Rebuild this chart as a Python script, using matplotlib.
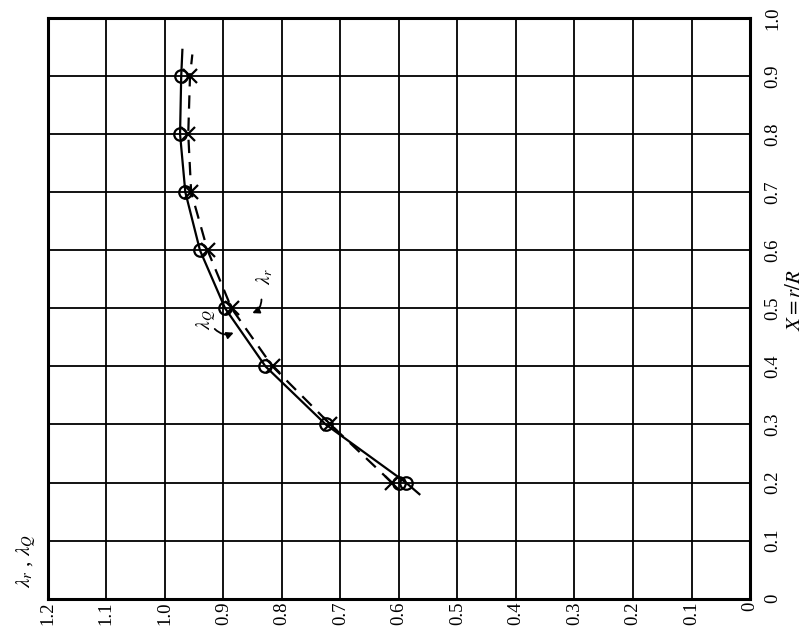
import matplotlib.pyplot as plt
from matplotlib.patches import FancyArrowPatch

# X = r/R positions of the measured points
X = [0.2, 0.3, 0.4, 0.5, 0.6, 0.7, 0.8, 0.9]
# lambda_Q (circles, solid line)
lam_q = [0.588, 0.725, 0.828, 0.897, 0.940, 0.965, 0.974, 0.972]
# lambda_r (crosses, dashed line)
lam_r = [0.612, 0.717, 0.816, 0.886, 0.927, 0.955, 0.960, 0.957]
# second circle drawn at X = 0.2
extra_X = [0.2]
extra_lam = [0.600]

# curve ends (lines run a bit past the points)
q_line_X = [0.18] + X + [0.945]
q_line_lam = [0.565] + lam_q + [0.970]
r_line_X = X + [0.937]
r_line_lam = lam_r + [0.953]

lam_ticks = [1.2, 1.1, 1.0, 0.9, 0.8, 0.7, 0.6, 0.5, 0.4, 0.3, 0.2, 0.1, 0]
lam_labels = ["1.2", "1.1", "1.0", "0.9", "0.8", "0.7", "0.6",
              "0.5", "0.4", "0.3", "0.2", "0.1", "0"]
x_ticks = [0, 0.1, 0.2, 0.3, 0.4, 0.5, 0.6, 0.7, 0.8, 0.9, 1.0]
x_labels = ["0", "0.1", "0.2", "0.3", "0.4", "0.5", "0.6",
            "0.7", "0.8", "0.9", "1.0"]

plt.rcParams['font.family'] = ['Liberation Serif', 'DejaVu Serif']
plt.rcParams['mathtext.fontset'] = 'stix'

fig = plt.figure(figsize=(8.1, 6.39), dpi=100)
ax = fig.add_axes([0.059, 0.063, 0.867, 0.909])

ax.plot(q_line_lam, q_line_X, "k-", lw=1.6)
ax.plot(r_line_lam, r_line_X, "k--", lw=1.6, dashes=(6, 4))
ax.plot(lam_q, X, "o", ms=9, mfc="none", mec="k", mew=1.6)
ax.plot(extra_lam, extra_X, "o", ms=9, mfc="none", mec="k", mew=1.6)
ax.plot(lam_r, X, "x", ms=10, mec="k", mew=1.6)

ax.set_xlim(1.2, 0)
ax.set_ylim(0, 1.0)

ax.set_xticks(lam_ticks)
ax.set_xticklabels(lam_labels, rotation=90, fontsize=13.5)
ax.set_yticks(x_ticks)
ax.set_yticklabels(x_labels, rotation=90, fontsize=13.5, va="center")
ax.yaxis.tick_right()
ax.tick_params(axis="x", length=0, pad=2)
ax.tick_params(axis="y", length=0, pad=10)

ax.grid(True, color="k", lw=1.3)
for s in ax.spines.values():
    s.set_linewidth(2.2)

# labels
fig.text(0.032, 0.08, r"$\lambda_r$ , $\lambda_Q$", rotation=90,
         fontsize=15, ha="center", va="bottom")
fig.text(0.982, 0.53, r"$X=r/R$", rotation=90, fontsize=15,
         ha="center", va="center")

# annotations on the curves
ax.text(0.83, 0.555, r"$\lambda_r$", rotation=90, fontsize=14,
        ha="center", va="center")
ax.add_patch(FancyArrowPatch((0.835, 0.52), (0.855, 0.49),
                             connectionstyle="arc3,rad=-0.4",
                             arrowstyle="-|>", mutation_scale=10,
                             color="k", lw=1.3))
ax.text(0.93, 0.48, r"$\lambda_Q$", rotation=90, fontsize=14,
        ha="center", va="center")
ax.add_patch(FancyArrowPatch((0.918, 0.468), (0.878, 0.46),
                             connectionstyle="arc3,rad=0.4",
                             arrowstyle="-|>", mutation_scale=10,
                             color="k", lw=1.3))

fig.savefig("out.png", dpi=100)
